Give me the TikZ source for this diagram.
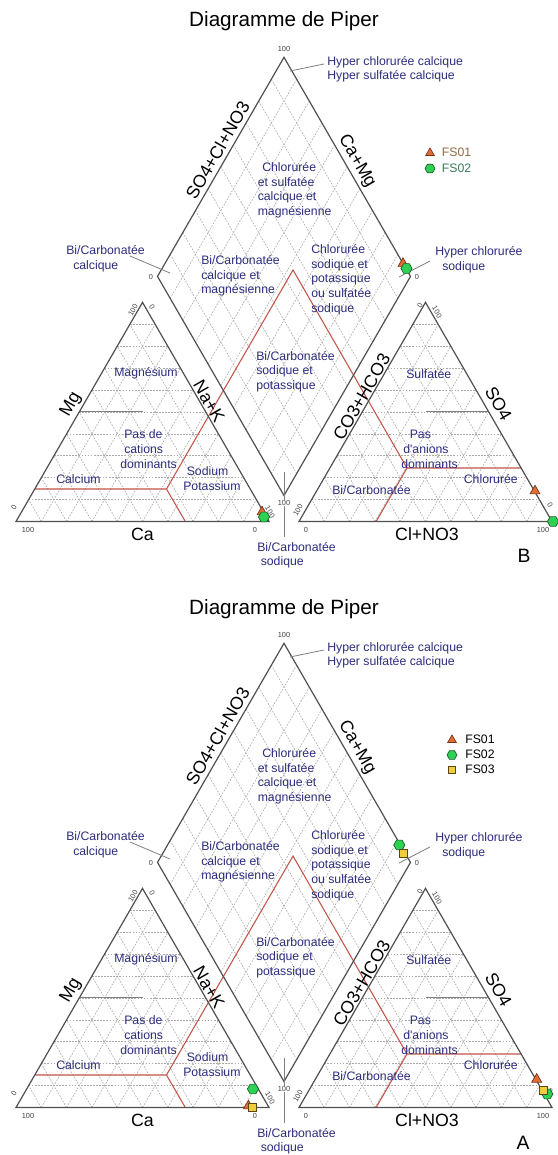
\documentclass[tikz,border=0pt]{standalone}
\usepackage{fontspec}
\setmainfont{Liberation Sans}
\usetikzlibrary{calc,shapes.geometric}
\definecolor{navy}{RGB}{45,45,125}
\definecolor{edgec}{RGB}{80,80,80}
\definecolor{gridc}{RGB}{170,170,170}
\definecolor{redl}{RGB}{195,85,75}
\definecolor{trif}{RGB}{225,110,55}
\definecolor{trid}{RGB}{120,50,20}
\definecolor{hexf}{RGB}{45,210,85}
\definecolor{hexd}{RGB}{30,90,40}
\definecolor{sqf}{RGB}{240,205,60}
\definecolor{sqd}{RGB}{90,70,10}
\definecolor{fsa}{RGB}{150,105,65}
\definecolor{fsb}{RGB}{55,125,90}
\tikzset{
  outline/.style={draw=edgec, line width=0.9pt},
  gridline/.style={draw=gridc, line width=0.45pt, dash pattern=on 1.3pt off 1pt},
  redline/.style={draw=redl, line width=0.8pt},
  halfline/.style={draw=gray, line width=0.8pt},
  leader/.style={draw=gray, line width=0.6pt},
  reg/.style={font=\fontsize{9.2}{11}\selectfont, text=navy, inner sep=0pt, anchor=mid west},
  axis/.style={font=\fontsize{13.3}{15}\selectfont, inner sep=0pt},
  tick/.style={font=\fontsize{5.5}{6}\selectfont, text=black!75, inner sep=0.6pt},
  ttl/.style={font=\fontsize{15.5}{18}\selectfont, inner sep=0pt},
  letter/.style={font=\fontsize{14.5}{16}\selectfont, inner sep=0pt},
  lgtext/.style={font=\fontsize{9.2}{11}\selectfont, inner sep=0pt, anchor=mid west},
  mtri/.style={regular polygon, regular polygon sides=3, draw=trid, fill=trif, minimum size=8.6pt, inner sep=0pt, line width=0.5pt},
  mhex/.style={regular polygon, regular polygon sides=6, draw=hexd, fill=hexf, minimum size=8.4pt, inner sep=0pt, line width=0.5pt},
  msq/.style={rectangle, draw=sqd, fill=sqf, minimum size=6pt, inner sep=0pt, line width=0.5pt},
}
\newcommand\rl[4]{\node[reg] (#1) at (#2,#3) {#4};}
\newcommand\tk[5]{\node[tick,rotate=#4] (#1) at (#2,#3) {#5};}
\newcommand\drawpiper[2]{%
\begin{scope}[shift={(0,#2)}]
  \coordinate (#1L1) at (16,521.5);
  \coordinate (#1L2) at (269,521.5);
  \coordinate (#1L3) at (142.5,302.4);
  \coordinate (#1R1) at (299,521.5);
  \coordinate (#1R2) at (552,521.5);
  \coordinate (#1R3) at (425.5,302.4);
  \coordinate (#1DT) at (284,57.3);
  \coordinate (#1DL) at (157.5,276.4);
  \coordinate (#1DB) at (284,495.5);
  \coordinate (#1DR) at (410.5,276.4);
  \coordinate (#1Lm) at ($(#1L1)!.5!(#1L2)$);
  \coordinate (#1Rm) at ($(#1R1)!.5!(#1R2)$);
  \foreach \t in {0.1,0.2,...,0.91}{
    \draw[gridline] ($(#1L1)!\t!(#1L2)$) -- ($(#1L3)!\t!(#1L2)$);
    \draw[gridline] ($(#1L1)!\t!(#1L3)$) -- ($(#1L2)!\t!(#1L3)$);
    \draw[gridline] ($(#1L2)!\t!(#1L1)$) -- ($(#1L3)!\t!(#1L1)$);
    \draw[gridline] ($(#1R1)!\t!(#1R2)$) -- ($(#1R3)!\t!(#1R2)$);
    \draw[gridline] ($(#1R1)!\t!(#1R3)$) -- ($(#1R2)!\t!(#1R3)$);
    \draw[gridline] ($(#1R2)!\t!(#1R1)$) -- ($(#1R3)!\t!(#1R1)$);
    \draw[gridline] ($(#1DL)!\t!(#1DB)$) -- ($(#1DT)!\t!(#1DR)$);
    \draw[gridline] ($(#1DT)!\t!(#1DL)$) -- ($(#1DR)!\t!(#1DB)$);
  }
  \draw[halfline] ($(#1L1)!.5!(#1L3)$) -- ($(#1L3)!.5!(#1Lm)$);
  \draw[halfline] ($(#1R3)!.5!(#1Rm)$) -- ($(#1R2)!.5!(#1R3)$);
  \coordinate (#1P1) at (166.5,489);
  \coordinate (#1P2) at (407,468);
  \coordinate (#1A) at (293,270);
  \coordinate (#1Q1) at (34.8,489);
  \coordinate (#1Q2) at (185.3,521.5);
  \coordinate (#1Q3) at (521.1,468);
  \coordinate (#1Q4) at (376.1,521.5);
  \draw[redline] (#1Q1) -- (#1P1) -- (#1Q2);
  \draw[redline] (#1P1) -- (#1A) -- (#1P2) -- (#1Q3);
  \draw[redline] (#1P2) -- (#1Q4);
  \draw[outline] (#1L1) -- (#1L2) -- (#1L3) -- cycle;
  \draw[outline] (#1R1) -- (#1R2) -- (#1R3) -- cycle;
  \draw[outline] (#1DT) -- (#1DL) -- (#1DB) -- (#1DR) -- cycle;
  % region labels
  \rl{#1c1}{262}{168}{Chlorurée}
  \rl{#1c2}{257.5}{182.7}{et sulfatée}
  \rl{#1c3}{257.5}{197.4}{calcique et}
  \rl{#1c4}{257.5}{212.1}{magnésienne}
  \rl{#1d1}{201}{261}{Bi/Carbonatée}
  \rl{#1d2}{201}{275.7}{calcique et}
  \rl{#1d3}{201}{290.4}{magnésienne}
  \rl{#1e1}{311}{250}{Chlorurée}
  \rl{#1e2}{311}{264.7}{sodique et}
  \rl{#1e3}{311}{279.4}{potassique}
  \rl{#1e4}{311}{294.1}{ou sulfatée}
  \rl{#1e5}{311}{308.8}{sodique}
  \rl{#1f1}{256}{356.7}{Bi/Carbonatée}
  \rl{#1f2}{256}{371.4}{sodique et}
  \rl{#1f3}{256}{386.1}{potassique}
  \rl{#1g1}{114}{373}{Magnésium}
  \rl{#1g2}{124}{435}{Pas de}
  \rl{#1g3}{124}{450}{cations}
  \rl{#1g4}{120}{465}{dominants}
  \rl{#1g5}{56}{479.5}{Calcium}
  \rl{#1g6}{186.5}{472.2}{Sodium}
  \rl{#1g7}{183}{486.8}{Potassium}
  \rl{#1h1}{406}{375}{Sulfatée}
  \rl{#1h2}{409.5}{435}{Pas}
  \rl{#1h3}{403}{450}{d\textquotesingle anions}
  \rl{#1h4}{401}{465}{dominants}
  \rl{#1h5}{463.6}{479.5}{Chlorurée}
  \rl{#1h6}{332}{491.2}{Bi/Carbonatée}
  \rl{#1i1}{66}{250.5}{Bi/Carbonatée}
  \rl{#1i2}{73}{265.5}{calcique}
  \rl{#1j1}{435}{252}{Hyper chlorurée}
  \rl{#1j2}{442}{267}{sodique}
  \rl{#1k1}{327}{62}{Hyper chlorurée calcique}
  \rl{#1k2}{327}{76}{Hyper sulfatée calcique}
  \rl{#1m1}{257}{547.5}{Bi/Carbonatée}
  \rl{#1m2}{260.5}{562}{sodique}
  % leaders
  \coordinate (#1k0) at (290,71);
  \coordinate (#1k9) at (324,64);
  \coordinate (#1i0) at (130,256);
  \coordinate (#1i9) at (170,273);
  \coordinate (#1j0) at (430,261);
  \coordinate (#1j9) at (399,277);
  \coordinate (#1m0) at (284,472);
  \coordinate (#1m9) at (284,537);
  \draw[leader] (#1k0) -- (#1k9);
  \draw[leader] (#1i0) -- (#1i9);
  \draw[leader] (#1j0) -- (#1j9);
  \draw[leader] (#1m0) -- (#1m9);
  % axis labels
  \node[axis,rotate=60] (#1ax1) at (217.6,150.4) {SO4+Cl+NO3};
  \node[axis,rotate=-60] (#1ax2) at (356.8,161.4) {Ca+Mg};
  \node[axis,rotate=60] (#1ax3) at (71,404.3) {Mg};
  \node[axis,rotate=-60] (#1ax4) at (209,401.4) {Na+K};
  \node[axis] (#1ax5) at (142.5,534) {Ca};
  \node[axis,rotate=60] (#1ax6) at (361.7,397) {CO3+HCO3};
  \node[axis,rotate=-60] (#1ax7) at (498.5,403.5) {SO4};
  \node[axis] (#1ax8) at (427,534) {Cl+NO3};
  % ticks
  \tk{#1n1}{28}{530}{0}{100}
  \tk{#1n2}{255}{530}{0}{0}
  \tk{#1n3}{14}{507}{60}{0}
  \tk{#1n4}{133}{310}{60}{100}
  \tk{#1n5}{152}{307}{-60}{0}
  \tk{#1n6}{270}{512}{-60}{100}
  \tk{#1n7}{306}{530}{0}{0}
  \tk{#1n8}{298}{510}{60}{100}
  \tk{#1n9}{420}{305}{60}{0}
  \tk{#1n10}{437}{312}{-60}{100}
  \tk{#1n11}{550}{505}{-60}{0}
  \tk{#1n12}{543}{530}{0}{100}
  \tk{#1n13}{284}{49}{0}{100}
  \tk{#1n14}{151}{277}{0}{0}
  \tk{#1n15}{417}{277}{0}{0}
  \node[tick,fill=white] (#1n16) at (284,503) {100};
\end{scope}}
\begin{document}
\begin{tikzpicture}[x=0.75pt,y=-0.75pt]
\fill[white] (0,0) rectangle (557,1155);
\useasboundingbox (0,0) rectangle (557,1155);
\drawpiper{a}{0}
\drawpiper{b}{586}
\node[ttl] (t1) at (284,21) {Diagramme de Piper};
\node[ttl] (t2) at (284,609) {Diagramme de Piper};
\node[letter] (lB) at (524,556) {B};
\node[letter] (lA) at (523,1143) {A};
% top data
\node[mtri] (a1l) at (262,512) {};
\node[mhex] (a2l) at (264,517) {};
\node[mtri] (a1d) at (403,263.5) {};
\node[mhex] (a2d) at (406.5,268.5) {};
\node[mtri] (a1r) at (535,491) {};
\node[mhex] (a2r) at (553,521.5) {};
\node[mtri,minimum size=7.5pt] (ag1) at (430,153) {};
\node[lgtext,text=fsa] (at1) at (441.6,153) {FS01};
\node[mhex,minimum size=7.5pt] (ag2) at (430,168.5) {};
\node[lgtext,text=fsb] (at2) at (441.6,168.5) {FS02};
% bottom data
\node[mhex] (b2l) at (253,1089) {};
\node[mtri] (b1l) at (248.5,1106) {};
\node[msq] (b3l) at (252,1107) {};
\node[mhex] (b2d) at (399.3,845) {};
\node[msq] (b3d) at (403.3,853.3) {};
\node[mtri] (b1r) at (536.7,1079.3) {};
\node[mhex] (b2r) at (547.3,1094) {};
\node[msq] (b3r) at (543.3,1090) {};
\node[mtri,minimum size=7.5pt] (bg1) at (452,740) {};
\node[lgtext] (bt1) at (465,740) {FS01};
\node[mhex,minimum size=7.5pt] (bg2) at (452,755) {};
\node[lgtext] (bt2) at (465,755) {FS02};
\node[msq,minimum size=5.5pt] (bg3) at (452,770) {};
\node[lgtext] (bt3) at (465,770) {FS03};
\end{tikzpicture}
\end{document}
